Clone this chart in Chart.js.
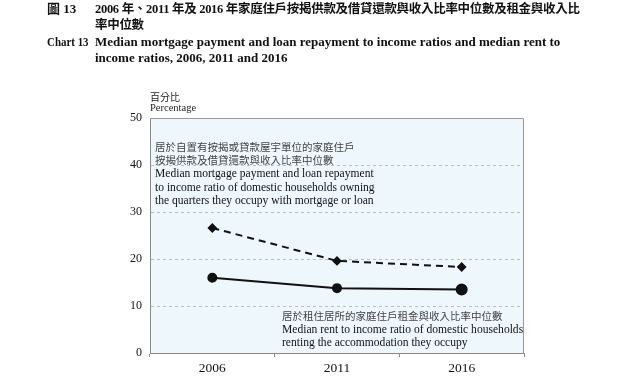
<!DOCTYPE html>
<html>
<head>
<meta charset="utf-8">
<script src="https://cdn.jsdelivr.net/npm/chart.js@4.4.1/dist/chart.umd.min.js"></script>
<style>
  html, body { margin: 0; padding: 0; background: #fff; }
  #wrap { position: relative; width: 640px; height: 376px; overflow: hidden; }
  #c { position: absolute; left: 0; top: 0; }
  .t { position: absolute; white-space: nowrap; color: #111; transform-origin: left top; }
  .head { font: bold 13px "Liberation Serif", "Noto Sans CJK TC", serif; line-height: 16px; }
  .cjkh { font-family: "Liberation Serif", "Noto Sans CJK TC", serif; font-weight: bold; font-size: 12.5px; letter-spacing: -0.3px; }
  .note { font: 12.5px "Liberation Serif", serif; line-height: 13px; color: #111; transform: scaleX(0.925); }
  .notec { font: 10.5px "Noto Sans CJK TC", sans-serif; line-height: 13px; color: #444; }
  .ax { font: 10px "Liberation Serif", "Noto Sans CJK TC", serif; color: #222; }
</style>
</head>
<body>
<div id="wrap">
  <canvas id="c" width="640" height="376"></canvas>

  <div class="t head" style="left:47px; top:1px;">圖 13</div>
  <div class="t head cjkh" style="left:95px; top:1px;">2006 年、2011 年及 2016 年家庭住戶按揭供款及借貸還款與收入比率中位數及租金與收入比</div>
  <div class="t head cjkh" style="left:95px; top:17px;">率中位數</div>
  <div class="t head" style="left:47px; top:34px; transform: scaleX(0.84);">Chart 13</div>
  <div class="t head" style="left:95px; top:34px;">Median mortgage payment and loan repayment to income ratios and median rent to</div>
  <div class="t head" style="left:95px; top:50px;">income ratios, 2006, 2011 and 2016</div>

  <div class="t ax" style="left:150px; top:89px;">百分比</div>
  <div class="t ax" style="left:150px; top:102px; font-size:10.5px;">Percentage</div>

  <div class="t notec" style="left:155px; top:140px;">居於自置有按揭或貸款屋宇單位的家庭住戶</div>
  <div class="t notec" style="left:155px; top:153px;">按揭供款及借貸還款與收入比率中位數</div>
  <div class="t note" style="left:155px; top:167px;">Median mortgage payment and loan repayment</div>
  <div class="t note" style="left:155px; top:181px;">to income ratio of domestic households owning</div>
  <div class="t note" style="left:155px; top:194px;">the quarters they occupy with mortgage or loan</div>

  <div class="t notec" style="left:282px; top:309px;">居於租住居所的家庭住戶租金與收入比率中位數</div>
  <div class="t note" style="left:282px; top:323px;">Median rent to income ratio of domestic households</div>
  <div class="t note" style="left:282px; top:336px;">renting the accommodation they occupy</div>
</div>

<script>
var years = ["2006", "2011", "2016"];
var mortgageRatio = [26.6, 19.6, 18.3];
var rentRatio = [16.0, 13.8, 13.5];
var yTicks = [0, 10, 20, 30, 40, 50];

// plot area fill and box
var plotBox = {
    id: 'plotBox',
    beforeDraw: function (chart) {
        var a = chart.chartArea, ctx = chart.ctx;
        ctx.save();
        ctx.fillStyle = '#eef7fb';
        ctx.fillRect(a.left, a.top, a.right - a.left, a.bottom - a.top);
        ctx.restore();
    },
    afterDraw: function (chart) {
        var a = chart.chartArea, ctx = chart.ctx;
        ctx.save();
        ctx.strokeStyle = '#9a9a9a';
        ctx.lineWidth = 1;
        ctx.beginPath();
        ctx.moveTo(a.left, a.top + 0.5);
        ctx.lineTo(a.right - 0.5, a.top + 0.5);
        ctx.lineTo(a.right - 0.5, a.bottom);
        ctx.stroke();
        ctx.restore();
    }
};

new Chart(document.getElementById('c').getContext('2d'), {
    type: 'line',
    data: {
        labels: years,
        datasets: [
            {
                label: 'Mortgage payment and loan repayment to income ratio',
                data: mortgageRatio,
                borderColor: '#111',
                backgroundColor: '#111',
                borderWidth: 2,
                borderDash: [7, 5],
                pointStyle: 'rectRot',
                pointRadius: 3.5,
                tension: 0
            },
            {
                label: 'Rent to income ratio',
                data: rentRatio,
                borderColor: '#111',
                backgroundColor: '#111',
                borderWidth: 2,
                pointStyle: 'circle',
                pointRadius: [4, 4, 5],
                tension: 0
            }
        ]
    },
    options: {
        responsive: false,
        animation: false,
        layout: { padding: { left: 110, top: 118, right: 116, bottom: 0 } },
        plugins: { legend: { display: false }, tooltip: { enabled: false } },
        scales: {
            x: {
                offset: true,
                grid: { offset: true, drawOnChartArea: false, tickLength: 4, color: '#888' },
                border: { color: '#888', width: 1 },
                ticks: { font: { family: 'Liberation Serif', size: 13.5 }, color: '#111', padding: 3 },
                afterFit: function (s) { s.height = 23; }
            },
            y: {
                min: 0,
                max: 50,
                afterBuildTicks: function (s) { s.ticks = yTicks.map(function (v) { return { value: v }; }); },
                grid: {
                    drawTicks: false,
                    color: function (ctx) {
                        var v = ctx.tick ? ctx.tick.value : 0;
                        return (v === 0 || v === 50) ? 'rgba(0,0,0,0)' : '#bdbdbd';
                    }
                },
                border: { color: '#888', width: 1, dash: [3, 3] },
                ticks: { font: { family: 'Liberation Serif', size: 12 }, color: '#111', padding: 8 },
                afterFit: function (s) { s.width = 40; }
            }
        }
    },
    plugins: [plotBox]
});
</script>
</body>
</html>
